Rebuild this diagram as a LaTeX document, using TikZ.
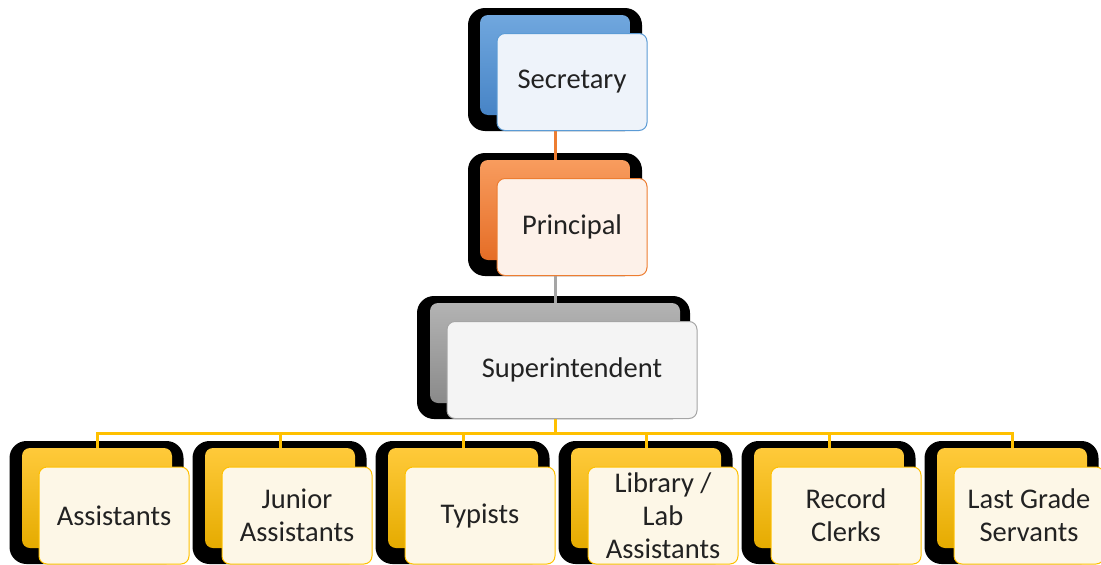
\documentclass[tikz,border=0pt]{standalone}
\usepackage{fontspec}
\setmainfont{Carlito}
\definecolor{blueTop}{HTML}{70A7DE}
\definecolor{blueBot}{HTML}{4784C6}
\definecolor{blueLine}{HTML}{5B9BD5}
\definecolor{blueFill}{HTML}{EEF3FA}
\definecolor{orangeTop}{HTML}{F89C5E}
\definecolor{orangeBot}{HTML}{E56D26}
\definecolor{orangeLine}{HTML}{ED7D31}
\definecolor{orangeFill}{HTML}{FDF1E9}
\definecolor{grayTop}{HTML}{B3B3B3}
\definecolor{grayBot}{HTML}{8A8A8A}
\definecolor{grayLine}{HTML}{A5A5A5}
\definecolor{grayFill}{HTML}{F4F4F4}
\definecolor{goldTop}{HTML}{FFCA3A}
\definecolor{goldBot}{HTML}{E5AB00}
\definecolor{goldLine}{HTML}{FFC000}
\definecolor{goldFill}{HTML}{FDF7E7}
\definecolor{ink}{HTML}{222222}
\begin{document}
\begin{tikzpicture}[x=1pt,y=-1pt,
    back/.style={fill=black, rounded corners=17pt, minimum height=123pt, inner sep=0pt},
    tint/.style={rounded corners=8pt, minimum height=100pt, inner sep=0pt},
    card/.style={draw, line width=1pt, rounded corners=8pt, minimum height=97pt,
      inner sep=0pt, align=center, text=ink, font=\fontsize{28.5}{33}\selectfont},
    link/.style={line width=3pt}]
  \useasboundingbox (0,0) rectangle (1101,565);

  % black backs and coloured tabs
  \node[back, minimum width=174pt] (secB) at (555,69.5) {};
  \node[tint, minimum width=150pt, top color=blueTop, bottom color=blueBot] (sec) at (555,65) {};
  \node[back, minimum width=174pt] (priB) at (555,214.5) {};
  \node[tint, minimum width=150pt, top color=orangeTop, bottom color=orangeBot] (pri) at (555,210) {};
  \node[back, minimum width=273pt] (supB) at (553.5,357.5) {};
  \node[tint, minimum width=250pt, top color=grayTop, bottom color=grayBot] (sup) at (555,353) {};

  \foreach \i in {0,1,2,3,4,5} {
    \pgfmathsetmacro{\cx}{97+183*\i}
    \node[back, minimum width=174pt] (kid\i B) at (\cx-0.5,502.5) {};
    \node[tint, minimum width=150pt, top color=goldTop, bottom color=goldBot] (kid\i) at (\cx,498) {};
  }

  % connectors
  \draw[link, orangeLine] (sec.south) -- (pri.north);
  \draw[link, grayLine] (pri.south) -- (sup.north);
  \coordinate (bus) at (555,433);
  \draw[link, goldLine] (sup.south) -- (bus);
  \foreach \i in {0,1,2,3,4,5}
    \draw[link, goldLine] (bus) -| (kid\i.north);

  % front cards
  \node[card, minimum width=150pt, draw=blueLine, fill=blueFill] (secT) at (572,82) {Secretary};
  \node[card, minimum width=150pt, draw=orangeLine, fill=orangeFill] (priT) at (572,227) {Principal};
  \node[card, minimum width=250pt, draw=grayLine, fill=grayFill] (supT) at (572,370) {Superintendent};

  \foreach \name [count=\i from 0] in {Assistants, Junior\\Assistants, Typists,
      Library /\\Lab\\Assistants, Record\\Clerks, Last Grade\\Servants} {
    \pgfmathsetmacro{\cx}{114+183*\i}
    \node[card, minimum width=150pt, draw=goldLine, fill=goldFill] (kid\i T) at (\cx,515.5) {\name};
  }
\end{tikzpicture}
\end{document}
